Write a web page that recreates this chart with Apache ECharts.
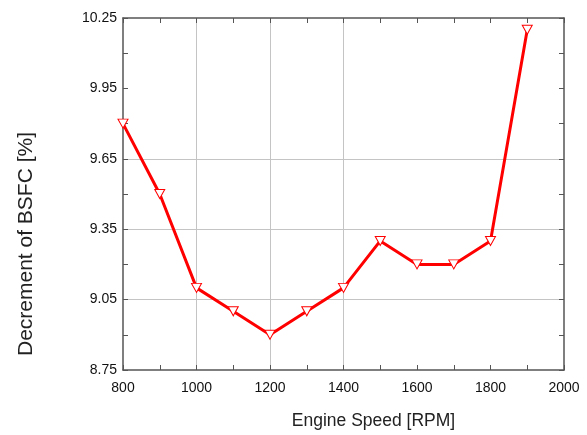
<!DOCTYPE html>
<html><head><meta charset="utf-8">
<script src="https://cdn.jsdelivr.net/npm/echarts@6/dist/echarts.min.js"></script>
<style>html,body{margin:0;padding:0;background:#fff}#c{width:587px;height:435px}</style>
</head><body><div id="c"></div>
<script>
var speeds = [800, 900, 1000, 1100, 1200, 1300, 1400, 1500, 1600, 1700, 1800, 1900];
var bsfcDecrement = [9.80, 9.50, 9.10, 9.00, 8.90, 9.00, 9.10, 9.30, 9.20, 9.20, 9.30, 10.20];
var xTicks = [800, 1000, 1200, 1400, 1600, 1800, 2000];
var yTicks = [8.75, 9.05, 9.35, 9.65, 9.95, 10.25];

var chart = echarts.init(document.getElementById('c'));
var font = 'Liberation Sans, Arial, sans-serif';
var axisCol = '#555';
var gridCol = '#c4c4c4';
function xLab(v){ return xTicks.indexOf(Math.round(v)) >= 0 ? String(Math.round(v)) : ''; }
function yLab(v){
  for (var i = 0; i < yTicks.length; i++) if (Math.abs(yTicks[i] - v) < 1e-6) return yTicks[i].toFixed(2);
  return '';
}
var xSplitCols = [];
for (var x = 800; x <= 2000; x += 100) xSplitCols.push((x === 1000 || x === 1200 || x === 1400) ? gridCol : 'transparent');
var ySplitCols = [];
for (var k = 0; k <= 10; k++) ySplitCols.push((k === 2 || k === 4 || k === 6) ? gridCol : 'transparent');

var commonX = {
  type: 'value', min: 800, max: 2000, interval: 100,
  axisLine: {show: true, onZero: false, lineStyle: {color: axisCol, width: 1.5}},
  axisTick: {show: true, inside: true, length: 5, lineStyle: {color: axisCol}}
};
var commonY = {
  type: 'value', min: 8.75, max: 10.25, interval: 0.15,
  axisLine: {show: true, onZero: false, lineStyle: {color: axisCol, width: 1.5}},
  axisTick: {show: true, inside: true, length: 5, lineStyle: {color: axisCol}}
};

chart.setOption({
  animation: false,
  backgroundColor: '#fff',
  grid: {left: 123, right: 23, top: 18, bottom: 65},
  xAxis: [
    Object.assign({}, commonX, {
      position: 'bottom',
      name: 'Engine Speed [RPM]', nameLocation: 'middle', nameGap: 42,
      nameTextStyle: {fontFamily: font, fontSize: 17.5, color: '#222', padding: [0, 0, 0, 60]},
      axisLabel: {formatter: xLab, margin: 11, fontFamily: font, fontSize: 14, color: '#111'},
      splitLine: {show: true, showMinLine: true, showMaxLine: true, lineStyle: {color: xSplitCols, width: 1}}
    }),
    Object.assign({}, commonX, {
      position: 'top', axisLabel: {show: false}, splitLine: {show: false}
    })
  ],
  yAxis: [
    Object.assign({}, commonY, {
      position: 'left',
      name: 'Decrement of BSFC [%]', nameLocation: 'middle', nameGap: 86,
      nameTextStyle: {fontFamily: font, fontSize: 21, color: '#222', padding: [0, 100, 0, 0]},
      axisLabel: {formatter: yLab, margin: 6, fontFamily: font, fontSize: 14, color: '#111'},
      splitLine: {show: true, showMinLine: true, showMaxLine: true, lineStyle: {color: ySplitCols, width: 1}}
    }),
    Object.assign({}, commonY, {
      position: 'right', axisLabel: {show: false}, splitLine: {show: false}
    })
  ],
  series: [{
    type: 'line',
    data: speeds.map(function(s, i){ return [s, bsfcDecrement[i]]; }),
    lineStyle: {color: '#ff0000', width: 3},
    symbol: 'triangle', symbolRotate: 180, symbolSize: [10, 9],
    itemStyle: {color: '#fff', borderColor: '#ff0000', borderWidth: 1},
    showAllSymbol: true
  }]
});
</script></body></html>
